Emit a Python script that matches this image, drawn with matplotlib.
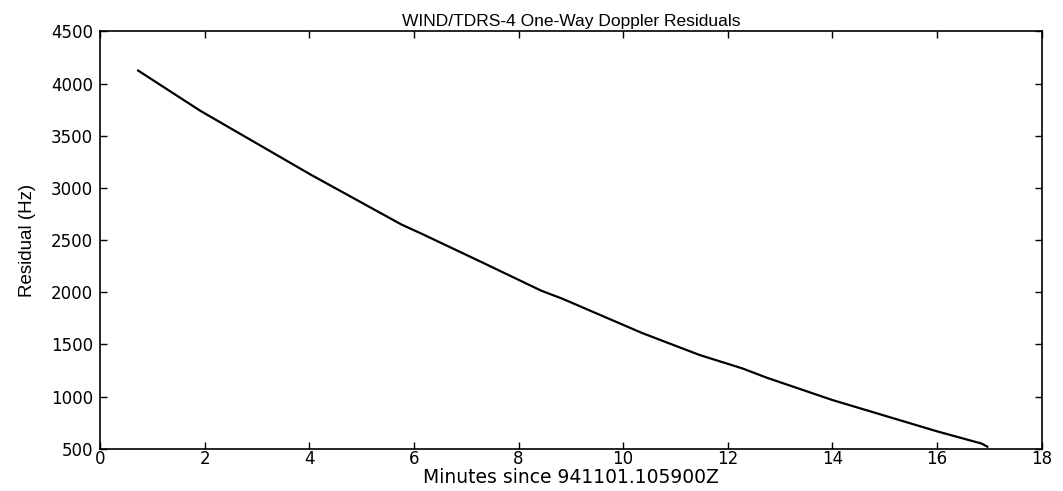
import matplotlib
matplotlib.use('Agg')
import matplotlib.pyplot as plt

# minutes since 941101.105900Z vs residual (Hz)
minutes = [0.73, 1.92, 4.03, 5.76, 6.14, 7.29, 8.44, 8.83, 10.36,
           11.46, 12.28, 12.74, 14.0, 16.0, 16.85, 16.96]
residual = [4125, 3739, 3127, 2650, 2563, 2290, 2014, 1940, 1610,
            1399, 1270, 1182, 967, 667, 550, 520]

x_ticks = [0, 2, 4, 6, 8, 10, 12, 14, 16, 18]
y_ticks = [500, 1000, 1500, 2000, 2500, 3000, 3500, 4000, 4500]

plt.rcParams['font.family'] = ['DejaVu Sans']

fig = plt.figure(figsize=(10.63, 4.91), dpi=100)
ax = fig.add_axes([0.094, 0.086, 0.886, 0.85])

ax.plot(minutes, residual, color='black', linewidth=1.6)

ax.set_xlim(0, 18)
ax.set_ylim(500, 4500)
ax.set_xticks(x_ticks)
ax.set_yticks(y_ticks)
ax.tick_params(direction='in', top=True, right=True, length=5, width=1,
               labelsize=12)
ax.tick_params(axis='x', pad=1)
ax.tick_params(axis='y', pad=5)
for s in ax.spines.values():
    s.set_linewidth(1.2)

ax.set_title('WIND/TDRS-4 One-Way Doppler Residuals', fontsize=12.5, pad=4,
             family='Liberation Sans')
ax.set_xlabel('Minutes since 941101.105900Z', fontsize=13.5, labelpad=0)
ax.set_ylabel('Residual (Hz)', fontsize=13.5, labelpad=11,
              family='Liberation Sans')

fig.savefig('out.png', dpi=100)
